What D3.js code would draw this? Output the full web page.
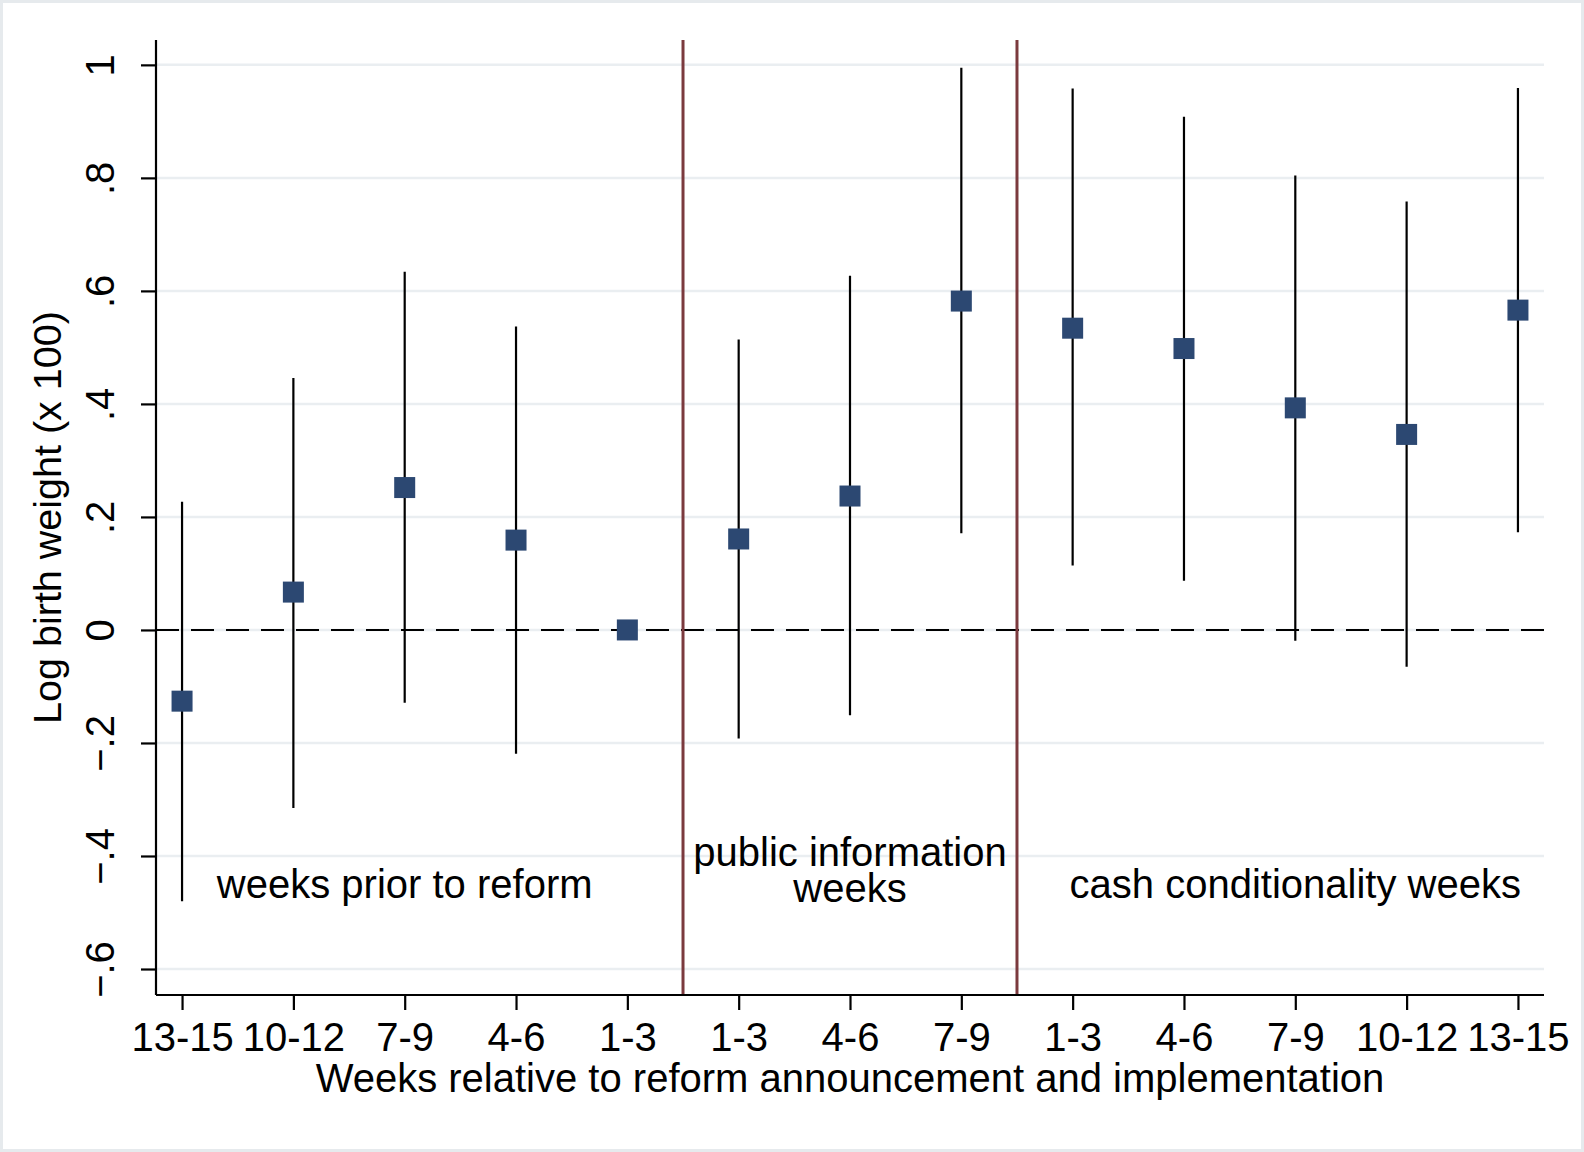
<!DOCTYPE html>
<html>
<head>
<meta charset="utf-8">
<script src="https://cdn.jsdelivr.net/npm/d3@7"></script>
<style>
  body { margin: 0; background: #fff; }
  text { font-family: "Liberation Sans", Arial, sans-serif; fill: #000; }
</style>
</head>
<body>
<div id="chart"></div>
<script>
// event-study estimates
const tickLabels = ["13-15", "10-12", "7-9", "4-6", "1-3", "1-3", "4-6", "7-9", "1-3", "4-6", "7-9", "10-12", "13-15"];
const positions = [1, 2, 3, 4, 5, 6, 7, 8, 9, 10, 11, 12, 13];
const estimates = [-0.126, 0.067, 0.252, 0.159, 0, 0.161, 0.237, 0.582, 0.534, 0.498, 0.393, 0.346, 0.566];
const ciLow = [-0.48, -0.315, -0.129, -0.219, null, -0.192, -0.151, 0.171, 0.114, 0.087, -0.019, -0.065, 0.173];
const ciHigh = [0.227, 0.446, 0.634, 0.537, null, 0.514, 0.627, 0.995, 0.958, 0.908, 0.804, 0.758, 0.959];
const yTicks = [-0.6, -0.4, -0.2, 0, 0.2, 0.4, 0.6, 0.8, 1];
const periodBreaks = [5.5, 8.5];
const periodLabels = [
    {x: 3, lines: ["weeks prior to reform"]},
    {x: 7, lines: ["public information", "weeks"]},
    {x: 11, lines: ["cash conditionality weeks"]}
];

const W = 1584, H = 1152;
const margin = {top: 40, right: 40, bottom: 157, left: 156};
const width = W - margin.left - margin.right;
const height = H - margin.top - margin.bottom;

const svg = d3.select("#chart").append("svg")
    .attr("width", W)
    .attr("height", H);

// outer frame
svg.append("rect")
    .attr("x", 1.5).attr("y", 1.5)
    .attr("width", W - 3).attr("height", H - 3)
    .attr("fill", "#fff")
    .attr("stroke", "#e6eaed")
    .attr("stroke-width", 3);

const g = svg.append("g")
    .attr("transform", "translate(" + margin.left + "," + margin.top + ")");

// scales
const x = d3.scaleLinear().domain([0.766, 13.234]).range([0, width]);
const y = d3.scaleLinear().domain([-0.646, 1.044]).range([height, 0]);

const fmt = v => {
    let s = d3.format(".1f")(v);
    if (s === "0.0" || s === "-0.0") return "0";
    if (s === "1.0") return "1";
    return s.replace("0.", ".");
};

// gridlines
g.selectAll(".grid")
    .data(yTicks)
    .enter().append("line")
    .attr("class", "grid")
    .attr("x1", 0).attr("x2", width)
    .attr("y1", d => y(d)).attr("y2", d => y(d))
    .attr("stroke", "#eaeef1")
    .attr("stroke-width", 2.5);

// zero reference line
g.append("line")
    .attr("x1", 0).attr("x2", width)
    .attr("y1", y(0)).attr("y2", y(0))
    .attr("stroke", "#000")
    .attr("stroke-width", 2)
    .attr("stroke-dasharray", "23,12");

// period separators
g.selectAll(".break")
    .data(periodBreaks)
    .enter().append("line")
    .attr("class", "break")
    .attr("x1", d => x(d)).attr("x2", d => x(d))
    .attr("y1", 0).attr("y2", height)
    .attr("stroke", "#7b3a3e")
    .attr("stroke-width", 3);

// axes
const xAxis = d3.axisBottom(x)
    .tickValues(positions)
    .tickFormat((d, i) => tickLabels[i])
    .tickSize(15)
    .tickPadding(4);
const yAxis = d3.axisLeft(y)
    .tickValues(yTicks)
    .tickFormat(fmt)
    .tickSize(15)
    .tickPadding(8);

const xAxisGroup = g.append("g")
    .attr("transform", "translate(0," + height + ")")
    .call(xAxis);
xAxisGroup.select(".domain").attr("d", "M0,0H" + width);
xAxisGroup.selectAll("text")
    .style("font-size", "40px")
    .attr("dy", "0.93em");

const yAxisGroup = g.append("g").call(yAxis);
yAxisGroup.select(".domain").attr("d", "M0,0V" + height);
yAxisGroup.selectAll(".tick text")
    .style("font-size", "40px")
    .attr("text-anchor", "middle")
    .attr("x", 0).attr("dy", 0)
    .attr("transform", "translate(-42,0) rotate(-90)");

[xAxisGroup, yAxisGroup].forEach(a => {
    a.selectAll(".domain, .tick line").attr("stroke", "#000").attr("stroke-width", 2.2);
});

// confidence intervals
const ciData = positions.map((p, i) => ({p: p, lo: ciLow[i], hi: ciHigh[i]}))
    .filter(d => d.lo !== null);
g.selectAll(".ci")
    .data(ciData)
    .enter().append("line")
    .attr("class", "ci")
    .attr("x1", d => x(d.p)).attr("x2", d => x(d.p))
    .attr("y1", d => y(d.lo)).attr("y2", d => y(d.hi))
    .attr("stroke", "#000")
    .attr("stroke-width", 2.2);

// point estimates
const sq = 21;
g.selectAll(".pt")
    .data(positions.map((p, i) => ({p: p, v: estimates[i]})))
    .enter().append("rect")
    .attr("class", "pt")
    .attr("x", d => x(d.p) - sq / 2)
    .attr("y", d => y(d.v) - sq / 2)
    .attr("width", sq).attr("height", sq)
    .attr("fill", "#2c4872");

// period annotations
const ann = g.selectAll(".ann")
    .data(periodLabels)
    .enter().append("text")
    .attr("class", "ann")
    .attr("text-anchor", "middle")
    .style("font-size", "40px")
    .attr("x", d => x(d.x))
    .attr("y", d => d.lines.length > 1 ? y(-0.4) + 10 : y(-0.4) + 42);
ann.selectAll("tspan")
    .data(d => d.lines.map(l => ({l: l, x: x(d.x)})))
    .enter().append("tspan")
    .attr("x", d => d.x)
    .attr("dy", (d, i) => i === 0 ? 0 : "0.9em")
    .text(d => d.l);

// axis titles
g.append("text")
    .attr("text-anchor", "middle")
    .style("font-size", "40px")
    .attr("x", width / 2)
    .attr("y", height + 97)
    .text("Weeks relative to reform announcement and implementation");

g.append("text")
    .attr("text-anchor", "middle")
    .style("font-size", "39.5px")
    .attr("transform", "translate(-95," + height / 2 + ") rotate(-90)")
    .text("Log birth weight (x 100)");
</script>
</body>
</html>
